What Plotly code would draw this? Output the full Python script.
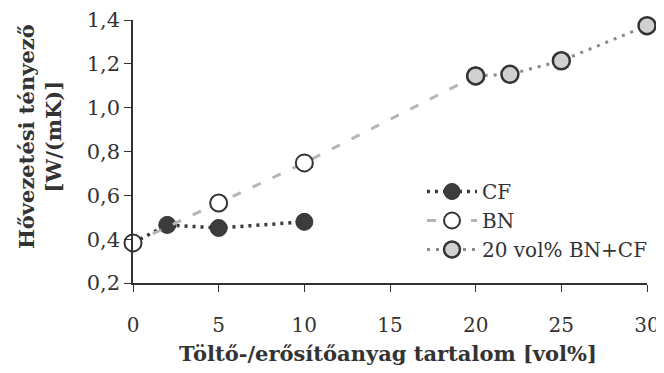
import plotly.graph_objects as go

cf_x = [0, 2, 5, 10]
cf_y = [0.383, 0.465, 0.451, 0.479]
bn_x = [0, 5, 10, 20]
bn_y = [0.383, 0.565, 0.748, 1.145]
hy_x = [20, 22, 25, 30]
hy_y = [1.145, 1.152, 1.214, 1.374]

x_ticks = [0, 5, 10, 15, 20, 25, 30]
y_ticks = [0.2, 0.4, 0.6, 0.8, 1.0, 1.2, 1.4]
y_labels = ["0,2", "0,4", "0,6", "0,8", "1,0", "1,2", "1,4"]

font = "DejaVu Serif, serif"
ink = "#333333"

# page body has an 8px margin; figure is sized so the plot lands where the reference has it
W, H = 656, 357
L, R, T, B = 125, 17, 12, 82
pw, ph = W - L - R, H - T - B


def px_x(p):
    return (p - 8 - L) / pw


def px_y(p):
    return (H - B - (p - 8)) / ph


fig = go.Figure()
fig.add_trace(go.Scatter(
    x=cf_x, y=cf_y, name="CF", mode="lines+markers",
    line=dict(color="#3a3a3a", width=3.5, dash="3px,5px"),
    marker=dict(size=17, color="#3c3c3c", line=dict(color=ink, width=1)),
    cliponaxis=False, legendrank=1))
fig.add_trace(go.Scatter(
    x=bn_x, y=bn_y, name="BN", mode="lines+markers",
    line=dict(color="#b5b5b5", width=3, dash="9px,13px"),
    marker=dict(size=17, color="white", line=dict(color=ink, width=2)),
    cliponaxis=False, legendrank=2))
fig.add_trace(go.Scatter(
    x=hy_x, y=hy_y, name="20 vol% BN+CF", mode="lines+markers",
    line=dict(color="#8a8a8a", width=3, dash="3px,6px"),
    marker=dict(size=17, color="#d0d0d0", line=dict(color=ink, width=2.5)),
    cliponaxis=False, legendrank=3))

fig.update_layout(
    width=W, height=H,
    margin=dict(l=L, r=R, t=T, b=B, autoexpand=False),
    paper_bgcolor="white", plot_bgcolor="white",
    font=dict(family=font, size=20, color=ink),
    showlegend=True,
    legend=dict(x=px_x(422), y=px_y(172), xanchor="left", yanchor="top",
                bgcolor="rgba(0,0,0,0)", font=dict(size=20, family=font, color=ink),
                itemwidth=50, tracegroupgap=0),
    annotations=[
        dict(text="<b>Töltő-/erősítőanyag tartalom [vol%]</b>", xref="paper", yref="paper",
             x=px_x(388), y=px_y(353), xanchor="center", yanchor="middle",
             showarrow=False, font=dict(size=21, family=font, color=ink)),
        dict(text="<b>Hővezetési tényező<br>[W/(mK)]</b>", xref="paper", yref="paper",
             x=px_x(40), y=px_y(137), xanchor="center", yanchor="middle",
             textangle=-90, showarrow=False, font=dict(size=21, family=font, color=ink)),
    ],
)
fig.update_xaxes(
    range=[0, 30], tickvals=x_ticks, ticktext=[str(v) for v in x_ticks],
    showgrid=False, zeroline=False, showline=True, linecolor=ink, linewidth=1.5,
    ticks="outside", ticklen=7, tickcolor=ink, tickfont=dict(size=20), automargin=False,
    ticklabelstandoff=16, ticklabeloverflow="allow",
)
fig.update_yaxes(
    range=[0.2, 1.4], tickvals=y_ticks, ticktext=y_labels,
    showgrid=False, zeroline=False, showline=True, linecolor=ink, linewidth=1.5,
    ticks="outside", ticklen=7, tickcolor=ink, tickfont=dict(size=21), automargin=False,
)
fig.write_html("out.html")
